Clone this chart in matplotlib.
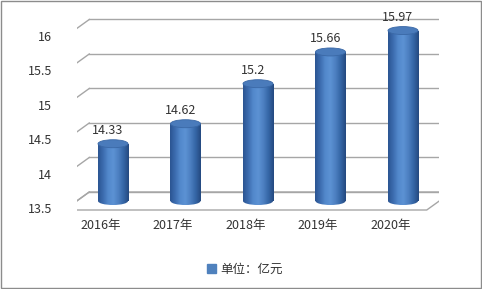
import numpy as np
import matplotlib.pyplot as plt
from matplotlib.patches import Ellipse, Rectangle, Polygon
from matplotlib.colors import LinearSegmentedColormap

plt.rcParams['font.family'] = ['Noto Sans CJK SC', 'DejaVu Sans']

years = ['2016年', '2017年', '2018年', '2019年', '2020年']
values = [14.33, 14.62, 15.2, 15.66, 15.97]
yticks = [13.5, 14, 14.5, 15, 15.5, 16]
unit_label = '单位：亿元'

fig = plt.figure(figsize=(4.82, 2.89), dpi=100)
# axes = mid-depth plane of the pseudo 3D box
ax = fig.add_axes([76.75 / 482, (289 - 214.8) / 289, 362.5 / 482, 203.55 / 289])
ax.set_xlim(-0.5, 4.5)
ax.set_ylim(13.3, 16.25)
ax.axis('off')

# depth offsets (front/back plane) in data units
dx = 12.5 / 72.5
dy = 9 / 69
grid_c = '#a6a6a6'

# floor
floor = Polygon([(-0.5 - dx, 13.5 - dy), (4.5 - dx, 13.5 - dy),
                 (4.5 + dx, 13.5 + dy), (-0.5 + dx, 13.5 + dy)],
                closed=True, facecolor='white', edgecolor=grid_c, lw=1, zorder=1)
ax.add_patch(floor)

# back wall gridlines + left wall diagonals
for v in yticks:
    ax.plot([-0.5 + dx, 4.5 + dx], [v + dy, v + dy], color=grid_c, lw=1, zorder=1)
    ax.plot([-0.5 - dx, -0.5 + dx], [v - dy, v + dy], color=grid_c, lw=1, zorder=1)
    ax.text(-0.5 - dx - 0.17, v - dy, f'{v:g}', ha='right', va='center',
            fontsize=9, color='#333333')

# cylinders
w = 0.414
eh = 0.116
cmap = LinearSegmentedColormap.from_list(
    'cyl', ['#2b5592', '#3d6db0', '#5389cc', '#5c92d4', '#4c7fc0', '#3566a6', '#254a80'])
grad = np.linspace(0, 1, 64).reshape(1, -1)

bars = ax.bar(range(len(values)), [v - 13.5 for v in values], bottom=13.5,
              width=w, color='#4f81bd', label=unit_label, zorder=2, lw=0)
for i, (b, v) in enumerate(zip(bars, values)):
    b.set_alpha(0)
    bottom_e = Ellipse((i, 13.5), w, eh, facecolor='none', edgecolor='none', zorder=2)
    ax.add_patch(bottom_e)
    im = ax.imshow(grad, cmap=cmap, aspect='auto', zorder=2,
                   extent=(i - w / 2, i + w / 2, 13.5 - eh / 2, 13.5 + eh / 2))
    im.set_clip_path(bottom_e)
    body = Rectangle((i - w / 2, 13.5), w, v - 13.5, facecolor='none', edgecolor='none', zorder=2)
    ax.add_patch(body)
    im = ax.imshow(grad, cmap=cmap, aspect='auto', zorder=2.1,
                   extent=(i - w / 2, i + w / 2, 13.5, v))
    im.set_clip_path(body)
    top = Ellipse((i, v), w, eh, facecolor='#4a7bbb', edgecolor='#3a68a6', lw=0.6, zorder=3)
    ax.add_patch(top)
    ax.text(i - 0.07, v + eh / 2 + 0.04, f'{v:g}', ha='center', va='bottom',
            fontsize=9, color='#333333', zorder=4)
    ax.text(i - dx, 13.5 - dy - 0.22, years[i], ha='center', va='center',
            fontsize=9, color='#333333')

ax.set_ylim(13.3, 16.25)
ax.set_xlim(-0.5, 4.5)

leg = fig.legend(handles=[Rectangle((0, 0), 1, 1, color='#4f81bd')], labels=[unit_label],
                 loc='center', bbox_to_anchor=(245 / 482, 1 - 269 / 289), frameon=False,
                 fontsize=9, handlelength=0.7, handleheight=0.7, handletextpad=0.4)
for t in leg.get_texts():
    t.set_color('#333333')

fig.patches.append(Rectangle((0.002, 0.003), 0.996, 0.994, transform=fig.transFigure,
                             fill=False, edgecolor='#8c8c8c', lw=1))

fig.savefig('out.png', dpi=100)
